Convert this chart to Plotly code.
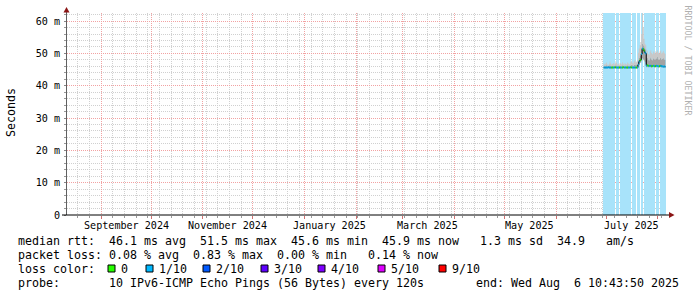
import plotly.graph_objects as go
from datetime import datetime, timedelta

# ---------------- data ----------------
x_start = "2024-08-11 10:43:50"
x_end = "2025-08-06 10:43:50"
y_max = 62.5

month_grid = ["2024-09-01", "2024-10-01", "2024-11-01", "2024-12-01", "2025-01-01",
              "2025-02-01", "2025-03-01", "2025-04-01", "2025-05-01", "2025-06-01",
              "2025-07-01", "2025-08-01"]
month_label_pos = ["2024-09-16", "2024-11-16", "2025-01-16", "2025-03-16", "2025-05-16", "2025-07-16"]
month_labels = ["September 2024", "November 2024", "January 2025", "March 2025", "May 2025", "July 2025"]

y_tickvals = [0, 10, 20, 30, 40, 50, 60]
y_ticktext = ["0", "10 m", "20 m", "30 m", "40 m", "50 m", "60 m"]

step_start = "2025-06-29 12:00:00"
step_hours = 12

median_ms = [
    45.6, 45.6, 45.6, 45.6, 45.6, 45.7, 45.6, 45.6, 45.6, 45.6,
    45.6, 45.6, 45.6, 45.7, 45.6, 45.6, 45.6, 45.6, 45.6, 45.6,
    45.6, 45.6, 45.6, 45.7, 45.6, 45.6, 45.6, 45.6, 45.6, 45.6,
    45.6, 45.6, 45.7, 45.6, 45.6, 45.6, 45.6, 45.6, 45.6, 45.6,
    45.6,
    46.5, 47.4, 47.8, 48.0, 49.8, 51.5, 51.3, 50.8, 50.3, 50.0,
    46.2, 46.3, 46.2, 46.1, 46.2, 46.2, 46.0, 46.1, 46.2, 46.1,
    46.0, 46.1, 46.2, 46.1, 46.0, 46.0, 46.1, 46.2, 46.0, 46.0,
    45.9, 46.0, 45.9,
]

loss_tenths = [
    1, 1, 1, 1, 1, 1, 1, 1, 1, 0,
    0, 1, 1, 0, 0, 1, 1, 1, 0, 0,
    1, 1, 0, 0, 1, 1, 1, 0, 0, 1,
    1, 1, 0, 0, 1, 1, 1, 1, 0, 0,
    1, 1, 1, 0, 0, 1, 1, 0, 0, 1,
    1, 1, 0, 0, 1, 1, 1, 0, 0, 1,
    1, 0, 0, 1, 1, 1, 0, 0, 1, 1,
    1, 1, 1, 1,
]

smoke_min = [
    45.4, 45.4, 45.3, 45.4, 45.4, 45.5, 45.4, 45.4, 45.3, 45.4,
    45.4, 45.4, 45.4, 45.5, 45.4, 45.4, 45.4, 45.3, 45.4, 45.4,
    45.4, 45.4, 45.4, 45.5, 45.4, 45.4, 45.4, 45.4, 45.3, 45.4,
    45.4, 45.4, 45.5, 45.4, 45.4, 45.4, 45.4, 45.4, 45.4, 45.4,
    45.4,
    46.0, 46.6, 47.0, 47.2, 47.8, 48.5, 48.2, 47.8, 47.4, 46.8,
    45.7, 45.8, 45.7, 45.7, 45.8, 45.7, 45.6, 45.7, 45.8, 45.7,
    45.6, 45.7, 45.8, 45.7, 45.6, 45.6, 45.7, 45.8, 45.6, 45.6,
    45.6, 45.6, 45.5,
]

smoke_mid = [
    46.1, 46.0, 46.2, 46.3, 46.0, 46.1, 46.2, 46.4, 46.1, 46.0,
    46.1, 46.2, 46.0, 46.2, 46.4, 46.2, 46.0, 46.1, 46.0, 46.2,
    46.1, 46.0, 46.3, 46.1, 46.0, 46.2, 46.1, 46.0, 46.3, 46.1,
    46.0, 46.1, 46.3, 46.5, 46.3, 46.1, 46.4, 46.6, 46.3, 46.4,
    46.5,
    47.8, 48.6, 49.2, 49.6, 51.2, 53.0, 52.8, 52.2, 51.6, 51.2,
    48.2, 48.6, 48.0, 47.8, 48.4, 48.8, 48.1, 47.9, 48.5, 48.3,
    48.0, 48.6, 48.4, 48.9, 48.2, 48.0, 48.5, 48.7, 48.1, 48.3,
    48.6, 48.2, 48.0,
]

smoke_max = [
    46.8, 46.5, 46.9, 47.2, 46.6, 46.4, 46.8, 47.5, 46.9, 46.5,
    46.7, 47.0, 46.6, 46.9, 47.6, 47.1, 46.6, 46.8, 46.5, 47.0,
    46.9, 46.6, 47.3, 46.8, 46.5, 47.0, 46.7, 46.6, 47.2, 46.9,
    46.5, 46.8, 47.4, 47.8, 47.1, 46.9, 47.6, 48.0, 47.2, 47.5,
    47.9,
    50.2, 51.5, 52.5, 53.5, 56.0, 63.0, 58.0, 54.5, 53.0, 52.5,
    50.2, 50.8, 49.8, 49.6, 50.5, 51.0, 50.1, 49.7, 50.6, 50.3,
    49.9, 50.7, 50.4, 51.0, 50.2, 49.8, 50.6, 50.9, 50.0, 50.3,
    50.8, 50.2, 49.9,
]

loss_colors = {0: "#26ff00", 1: "#00b8ff", 2: "#0059ff", 3: "#5e00ff",
               4: "#7e00ff", 5: "#dd00ff", 9: "#ff0000"}
loss_legend = ["0", "1/10", "2/10", "3/10", "4/10", "5/10", "9/10"]
loss_legend_keys = [0, 1, 2, 3, 4, 5, 9]

stat_line1 = "median rtt:  46.1 ms avg  51.5 ms max  45.6 ms min  45.9 ms now   1.3 ms sd  34.9   am/s"
stat_line2 = "packet loss: 0.08 % avg  0.83 % max  0.00 % min   0.14 % now"
stat_line3 = "loss color:"
stat_line4 = "probe:       10 IPv6-ICMP Echo Pings (56 Bytes) every 120s"
stat_end = "end: Wed Aug  6 10:43:50 2025"

# ---------------- layout geometry ----------------
W, H = 697, 297
PL, PR, PT, PB = 67, 667, 13, 215

def pxx(x):
    return (x - PL) / (PR - PL)

def pxy(y):
    return (PB - y) / (PB - PT)

MONO = "DejaVu Sans Mono"

t0 = datetime.strptime(step_start, "%Y-%m-%d %H:%M:%S")
n = len(median_ms)
times = [t0 + timedelta(hours=step_hours * i) for i in range(n + 1)]
centers = [t + timedelta(hours=step_hours / 2) for t in times[:-1]]

fig = go.Figure()

# loss background
fig.add_trace(go.Bar(
    x=centers, y=[y_max if l > 0 else 0 for l in loss_tenths],
    width=step_hours * 3600 * 1000, marker=dict(color="#a8e3fa", line=dict(width=0)),
    hoverinfo="skip"))

# smoke
ext = lambda arr: list(arr) + [arr[-1]]
fig.add_trace(go.Scatter(x=times, y=ext(smoke_min), mode="lines", line=dict(width=0, shape="hv"),
                         hoverinfo="skip"))
fig.add_trace(go.Scatter(x=times, y=ext(smoke_mid), mode="lines", line=dict(width=0, shape="hv"),
                         fill="tonexty", fillcolor="#a2a2a2", hoverinfo="skip"))
fig.add_trace(go.Scatter(x=times, y=ext(smoke_max), mode="lines", line=dict(width=0, shape="hv"),
                         fill="tonexty", fillcolor="#c8c8c8", hoverinfo="skip"))

# median black line
fig.add_trace(go.Scatter(x=times, y=ext(median_ms), mode="lines",
                         line=dict(width=1, color="#000000", shape="hv"), hoverinfo="skip"))

# loss-coloured median segments
for key in sorted(set(loss_tenths)):
    xs, ys = [], []
    for i, l in enumerate(loss_tenths):
        if l == key:
            xs += [times[i], times[i + 1], None]
            ys += [median_ms[i], median_ms[i], None]
    fig.add_trace(go.Scatter(x=xs, y=ys, mode="lines",
                             line=dict(width=2, color=loss_colors[key]), hoverinfo="skip"))

grid_dash = "1px,1px"
fig.update_layout(
    width=W, height=H, margin=dict(l=PL, r=W - PR, t=PT, b=H - PB),
    paper_bgcolor="white", plot_bgcolor="white", showlegend=False, bargap=0,
    xaxis=dict(type="date", range=[x_start, x_end], tickmode="array", tickvals=month_grid,
               showticklabels=False, showgrid=True, gridcolor="#f2a2a2", griddash=grid_dash,
               gridwidth=1, ticks="outside", ticklen=3, tickcolor="#d07070",
               zeroline=False, showline=False,
               minor=dict(tick0="2024-08-18", dtick=7 * 86400000, showgrid=True,
                          gridcolor="#d0d0d0", griddash=grid_dash, ticks="outside",
                          ticklen=2, tickcolor="#999999")),
    yaxis=dict(range=[0, y_max], tickmode="array", tickvals=y_tickvals, ticktext=y_ticktext,
               showgrid=True, gridcolor="#f2a2a2", griddash=grid_dash, gridwidth=1,
               ticks="outside", ticklen=2, tickcolor="#888888", ticklabelstandoff=2,
               tickfont=dict(family=MONO, size=10.1, color="#000000"),
               zeroline=False, showline=False,
               minor=dict(dtick=2, showgrid=True, gridcolor="#d0d0d0", griddash=grid_dash,
                          ticks="outside", ticklen=2, tickcolor="#999999")),
)

shapes = []
# y axis line
shapes.append(dict(type="line", xref="paper", yref="paper", x0=pxx(66.5), x1=pxx(66.5),
                   y0=pxy(215), y1=pxy(10), line=dict(color="#606060", width=1)))
# x axis line
shapes.append(dict(type="line", xref="paper", yref="paper", x0=pxx(62), x1=pxx(670),
                   y0=pxy(215), y1=pxy(215), line=dict(color="#000000", width=1)))
# arrows
shapes.append(dict(type="path", xref="paper", yref="paper",
                   path=f"M {pxx(63.5)} {pxy(12.5)} L {pxx(66.5)} {pxy(7)} L {pxx(69.5)} {pxy(12.5)} Z",
                   fillcolor="#8b1515", line=dict(width=0)))
shapes.append(dict(type="path", xref="paper", yref="paper",
                   path=f"M {pxx(669)} {pxy(212)} L {pxx(674.5)} {pxy(215)} L {pxx(669)} {pxy(218)} Z",
                   fillcolor="#8b1515", line=dict(width=0)))

# legend boxes
box_left = [108, 146, 203, 261, 318, 378, 439]
for bx, key in zip(box_left, loss_legend_keys):
    shapes.append(dict(type="rect", xref="paper", yref="paper",
                       x0=pxx(bx), x1=pxx(bx + 7), y0=pxy(272), y1=pxy(265),
                       fillcolor=loss_colors[key], line=dict(color="#000000", width=1)))
fig.update_layout(shapes=shapes)

ann = []
def text_ann(x, y, s, size=11.63, anchor="left", color="#000000", angle=0, family=MONO):
    ann.append(dict(xref="paper", yref="paper", x=pxx(x), y=pxy(y), text=s.replace(" ", "\u00a0"),
                    showarrow=False, xanchor=anchor, yanchor="middle", textangle=angle,
                    font=dict(family=family, size=size, color=color)))

# month labels
for pos, lab in zip(month_label_pos, month_labels):
    ann.append(dict(xref="x", yref="paper", x=pos, y=pxy(225), text=lab.replace(" ", "\u00a0"),
                    showarrow=False, xanchor="center", yanchor="middle",
                    font=dict(family=MONO, size=10.1, color="#000000")))

text_ann(16, 241, stat_line1)
text_ann(16, 255, stat_line2)
text_ann(16, 269, stat_line3)
for bx, lab in zip(box_left, loss_legend):
    text_ann(bx + 11, 269, lab)
text_ann(16, 283, stat_line4)
text_ann(681, 283, stat_end, anchor="right")

# unit title
text_ann(11, 113, "Seconds", anchor="center", angle=-90)
# watermark
text_ann(687.5, 60, "RRDTOOL / TOBI OETIKER", size=8.3, anchor="center", angle=90, color="#b0b0b0")

fig.update_layout(annotations=ann)
fig.write_html("out.html")
